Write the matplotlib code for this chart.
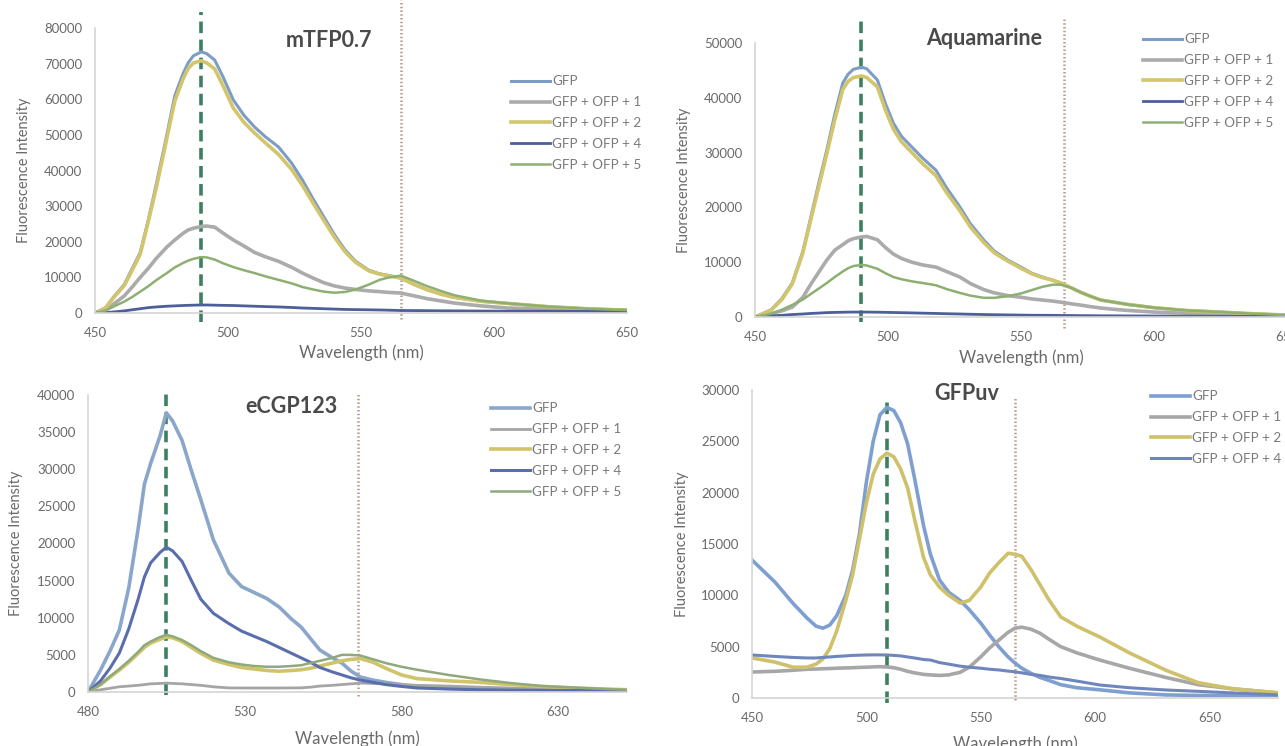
import matplotlib
matplotlib.use("Agg")
import matplotlib.pyplot as plt

plt.rcParams["font.family"] = ["Lato", "DejaVu Sans"]

labels5 = ["GFP", "GFP + OFP + 1", "GFP + OFP + 2", "GFP + OFP + 4", "GFP + OFP + 5"]
labels4 = ["GFP", "GFP + OFP + 1", "GFP + OFP + 2", "GFP + OFP + 4"]

# mTFP0.7 emission spectra
wl_mtfp = [450, 454, 457, 461, 464, 467, 470, 473, 477, 480, 483, 485, 487, 490, 492, 495, 498,
           502, 506, 510, 514, 519, 524, 528, 532, 536, 540, 544, 548, 553, 557, 560, 565, 570,
           575, 580, 585, 595, 605, 620, 635, 650]
mtfp_gfp = [0, 1500, 4500, 8000, 12500, 17000, 26000, 36000, 50000, 61000, 67000, 70200, 72200,
            73300, 72800, 71000, 66500, 59800, 55500, 52200, 49500, 46600, 42000, 37300, 32000,
            27000, 22000, 17700, 14500, 12000, 11000, 10600, 9800, 8000, 6500, 5300, 4400, 3300,
            2700, 1800, 1200, 800]
mtfp_ofp1 = [0, 900, 2500, 4800, 7300, 10000, 12500, 15300, 18500, 20500, 22300, 23300, 23800,
             24300, 24400, 24100, 22500, 20500, 18800, 17000, 15800, 14500, 12800, 11200, 9800,
             8500, 7600, 7000, 6600, 6200, 6000, 5800, 5600, 4800, 4000, 3400, 2800, 2000, 1400,
             1100, 900, 800]
mtfp_ofp2 = [0, 1400, 4300, 7700, 12000, 16500, 25500, 35000, 49000, 59500, 65500, 68600, 70200,
             70800, 70200, 68500, 64000, 57500, 53500, 50500, 47800, 44500, 40200, 35800, 30800,
             26000, 21300, 17200, 14200, 11800, 10900, 10500, 9800, 8000, 6500, 5300, 4400, 3300,
             2700, 1800, 1200, 800]
mtfp_ofp4 = [0, 100, 300, 600, 900, 1200, 1500, 1700, 1900, 2000, 2100, 2150, 2200, 2250, 2250,
             2200, 2150, 2100, 2000, 1900, 1800, 1700, 1550, 1400, 1300, 1200, 1100, 1000, 950,
             900, 850, 800, 700, 680, 650, 620, 600, 550, 500, 500, 450, 400]
mtfp_ofp5 = [0, 700, 1800, 3200, 4500, 6000, 7500, 9200, 11200, 12800, 14000, 14700, 15200,
             15700, 15600, 15000, 14000, 12900, 12000, 11200, 10300, 9300, 8300, 7300, 6600, 6000,
             5700, 5900, 6600, 8000, 9300, 9900, 10500, 9000, 7500, 6200, 5000, 3500, 2700, 1800,
             1200, 800]

# Aquamarine emission spectra
wl_aqua = [450, 456, 460, 464, 468, 471, 474, 477, 480, 483, 485, 487, 490, 492, 496, 499, 502,
           505, 509, 513, 518, 522, 527, 531, 536, 540, 545, 550, 554, 558, 562, 565, 569, 572,
           576, 580, 585, 590, 600, 612, 625, 637, 650]
aqua_gfp = [0, 1300, 3300, 6200, 12000, 18250, 24500, 30500, 37000, 42700, 44300, 45200, 45600,
            45300, 43250, 39000, 35400, 33000, 31000, 29000, 26800, 23600, 20100, 17000, 14050,
            12000, 10400, 9100, 8000, 7300, 6700, 6200, 5300, 4600, 3800, 3100, 2700, 2300, 1700,
            1200, 900, 600, 350]
aqua_ofp1 = [0, 600, 1100, 1800, 3600, 6000, 8200, 10400, 12200, 13200, 13900, 14300, 14600,
             14700, 14100, 12700, 11500, 10700, 10000, 9500, 9100, 8300, 7300, 6100, 5000, 4400,
             3900, 3600, 3300, 3100, 2900, 2700, 2400, 2200, 1900, 1640, 1400, 1200, 900, 700,
             500, 400, 300]
aqua_ofp2 = [0, 1200, 3100, 6000, 11700, 17800, 23800, 29800, 36000, 41500, 43000, 43700, 44000,
             43700, 42000, 37800, 34300, 32000, 30000, 28000, 25800, 22700, 19400, 16400, 13600,
             11700, 10200, 8900, 7900, 7200, 6700, 6200, 5300, 4600, 3800, 3100, 2700, 2300, 1700,
             1200, 900, 600, 350]
aqua_ofp4 = [0, 200, 300, 450, 550, 650, 720, 800, 840, 870, 890, 900, 900, 900, 880, 850, 820,
             790, 750, 700, 650, 600, 550, 500, 450, 420, 380, 350, 320, 310, 300, 280, 270, 250,
             240, 220, 210, 200, 180, 150, 130, 110, 100]
aqua_ofp5 = [0, 600, 1300, 2200, 3200, 4200, 5200, 6200, 7300, 8300, 8900, 9300, 9500, 9400,
             8800, 8000, 7300, 6900, 6500, 6200, 5800, 5100, 4400, 3900, 3500, 3500, 3800, 4300,
             4900, 5500, 5900, 5900, 5300, 4600, 3800, 3100, 2700, 2300, 1700, 1200, 900, 600, 350]

# eCGP123 emission spectra
wl_ecgp = [480, 484, 487, 490, 493, 496, 498, 500, 503, 505, 507, 510, 513, 516, 520, 525, 529,
           533, 537, 541, 545, 548, 551, 554, 558, 561, 564, 567, 571, 575, 580, 585, 595, 605,
           615, 625, 635, 645, 652]
ecgp_gfp = [0, 2960, 5500, 8350, 14000, 22000, 28000, 30800, 34500, 37600, 36500, 33900, 29800,
            25900, 20500, 16000, 14200, 13400, 12600, 11450, 9800, 8750, 7200, 5650, 4600, 3900,
            2800, 2000, 1600, 1300, 1000, 700, 500, 450, 400, 350, 300, 300, 300]
ecgp_ofp1 = [0, 300, 500, 700, 800, 900, 1000, 1100, 1150, 1200, 1150, 1100, 1000, 900, 700, 550,
             540, 540, 540, 540, 550, 560, 650, 800, 900, 1000, 1100, 1200, 1150, 1100, 1000,
             900, 800, 650, 540, 450, 400, 350, 300]
ecgp_ofp2 = [0, 1000, 2000, 2960, 4000, 5200, 6000, 6600, 7100, 7400, 7300, 6800, 6000, 5200,
             4300, 3700, 3300, 3100, 2900, 2800, 2900, 3000, 3200, 3500, 3900, 4200, 4400, 4500,
             4000, 3200, 2300, 1800, 1500, 1300, 1000, 750, 550, 400, 300]
ecgp_ofp4 = [0, 1500, 3200, 5250, 8500, 12500, 15500, 17400, 18800, 19500, 19000, 17600, 15000,
             12500, 10600, 9200, 8200, 7500, 6800, 6000, 5200, 4600, 4000, 3300, 2700, 2300, 1900,
             1600, 1300, 1000, 750, 540, 400, 300, 250, 220, 200, 200, 200]
ecgp_ofp5 = [0, 1000, 2100, 3100, 4200, 5400, 6300, 6800, 7400, 7700, 7500, 7000, 6300, 5500,
             4600, 4000, 3700, 3500, 3400, 3400, 3500, 3600, 3900, 4200, 4600, 5000, 5000, 4900,
             4400, 3900, 3400, 3000, 2300, 1700, 1200, 800, 600, 400, 300]

# GFPuv emission spectra
wl_uv = [450, 460, 468, 474, 478, 481, 484, 487, 491, 494, 497, 500, 503, 506, 509, 512, 515,
         518, 521, 525, 528, 532, 536, 541, 545, 550, 554, 558, 562, 565, 568, 572, 576, 580,
         585, 592, 602, 615, 631, 645, 660, 680]
uv_gfp = [13440, 11300, 9200, 7800, 7000, 6800, 7100, 8000, 10000, 12460, 16000, 21000, 25000,
          27600, 28300, 28000, 26800, 24800, 21500, 16800, 14000, 11500, 10300, 9500, 8600, 7300,
          6100, 4970, 4000, 3400, 2900, 2400, 2000, 1700, 1300, 1000, 800, 500, 300, 250, 250, 250]
uv_ofp1 = [2530, 2600, 2700, 2800, 2820, 2850, 2870, 2900, 2930, 2950, 2980, 3000, 3030, 3050,
           3020, 2950, 2800, 2600, 2450, 2300, 2250, 2200, 2250, 2500, 3000, 4000, 4900, 5650,
           6400, 6800, 6900, 6700, 6300, 5700, 5000, 4400, 3700, 2900, 2000, 1300, 900, 500]
uv_ofp2 = [3900, 3500, 3000, 3000, 3300, 3800, 4800, 6500, 9500, 12000, 15500, 19000, 21800,
           23300, 23850, 23500, 22300, 20500, 17500, 13700, 12000, 10800, 10000, 9250, 9500,
           10800, 12200, 13200, 14100, 14000, 13800, 12500, 11000, 9500, 7900, 7000, 5950, 4400,
           2700, 1500, 900, 500]
uv_ofp4 = [4190, 4050, 3950, 3900, 3900, 3950, 4000, 4050, 4100, 4150, 4170, 4190, 4200, 4200,
           4190, 4150, 4100, 4000, 3900, 3750, 3700, 3450, 3300, 3100, 3000, 2900, 2800, 2730,
           2620, 2550, 2450, 2300, 2200, 2040, 1900, 1650, 1270, 1000, 780, 650, 500, 300]

W, H = 1285, 746
fig = plt.figure(figsize=(W / 100, H / 100), dpi=100)


def px_axes(left, top, right, bottom):
    return fig.add_axes([left / W, 1 - bottom / H, (right - left) / W, (bottom - top) / H])


def style(ax, xlim, xticks, ylim, ystep, xlab_y):
    ax.set_xlim(*xlim)
    ax.set_ylim(*ylim)
    ax.set_xticks(xticks)
    ax.set_yticks(range(ylim[0], ylim[1] + 1, ystep))
    for s in ["top", "right"]:
        ax.spines[s].set_visible(False)
    for s in ["left", "bottom"]:
        ax.spines[s].set_color("#d4d4d4")
        ax.spines[s].set_linewidth(1.2)
    ax.tick_params(length=0, labelsize=9.5, labelcolor="#6a6a6a")
    ax.tick_params(axis="x", pad=10)
    ax.tick_params(axis="y", pad=9)
    ax.set_xlabel("Wavelength (nm)", fontsize=12, color="#6a6a6a")
    ax.set_ylabel("Fluorescence Intensity", fontsize=10.5, color="#6a6a6a")
    ax.xaxis.set_label_coords(0.5, xlab_y)
    ax.yaxis.set_label_coords(-0.12, 0.5)
    ax.patch.set_alpha(0)


def markers(ax, x_donor, x_acc, g0, g1, d0, d1):
    ax.axvline(x_donor, ymin=g0, ymax=g1, color="#3c8060", lw=2.6,
               ls=(0, (3.2, 1.8)), clip_on=False, zorder=1)
    ax.axvline(x_acc, ymin=d0, ymax=d1, color="#b89a8c", lw=1.8,
               ls=(0, (0.6, 0.9)), clip_on=False, zorder=1)


def legend(ax, x, y):
    ax.legend(loc="upper left", bbox_to_anchor=(x / W, 1 - y / H),
              bbox_transform=fig.transFigure, frameon=False, fontsize=9.7,
              handlelength=2.9, handletextpad=0.15, labelspacing=0.66,
              labelcolor="#7a7a7a", borderaxespad=0)


def title(ax, x, y, text):
    ax.text(x, y, text, fontsize=15.5, fontweight="bold", color="#4a4a4a",
            ha="center", va="center")


# mTFP0.7
ax1 = px_axes(95, 28, 627, 313)
ax1.plot(wl_mtfp, mtfp_gfp, color="#7d9cc6", lw=2.2, label=labels5[0])
ax1.plot(wl_mtfp, mtfp_ofp1, color="#ababab", lw=2.6, label=labels5[1])
ax1.plot(wl_mtfp, mtfp_ofp2, color="#d2c56c", lw=2.6, label=labels5[2])
ax1.plot(wl_mtfp, mtfp_ofp4, color="#4d5f9a", lw=2.0, label=labels5[3])
ax1.plot(wl_mtfp, mtfp_ofp5, color="#8db072", lw=1.8, label=labels5[4])
style(ax1, (450, 650), [450, 500, 550, 600, 650], (0, 80000), 10000, -0.112)
markers(ax1, 490, 565, -0.03, 1.056, -0.02, 1.1)
title(ax1, 538, 76600, "mTFP0.7")
legend(ax1, 506, 70)

# Aquamarine
ax2 = px_axes(755, 43, 1287, 317)
ax2.plot(wl_aqua, aqua_gfp, color="#7d9cc6", lw=2.2, label=labels5[0])
ax2.plot(wl_aqua, aqua_ofp1, color="#ababab", lw=2.6, label=labels5[1])
ax2.plot(wl_aqua, aqua_ofp2, color="#d2c56c", lw=2.6, label=labels5[2])
ax2.plot(wl_aqua, aqua_ofp4, color="#4d5f9a", lw=2.0, label=labels5[3])
ax2.plot(wl_aqua, aqua_ofp5, color="#8db072", lw=1.8, label=labels5[4])
style(ax2, (450, 650), [450, 500, 550, 600, 650], (0, 50000), 10000, -0.117)
markers(ax2, 490, 566, -0.02, 1.09, -0.04, 1.09)
title(ax2, 536, 50900, "Aquamarine")
legend(ax2, 1138, 28)

# eCGP123
ax3 = px_axes(88, 395, 627, 692)
ax3.plot(wl_ecgp, ecgp_gfp, color="#8aa6ca", lw=2.6, label=labels5[0])
ax3.plot(wl_ecgp, ecgp_ofp1, color="#a5a5a5", lw=2.0, label=labels5[1])
ax3.plot(wl_ecgp, ecgp_ofp2, color="#cfc46a", lw=2.6, label=labels5[2])
ax3.plot(wl_ecgp, ecgp_ofp4, color="#5a6eae", lw=2.2, label=labels5[3])
ax3.plot(wl_ecgp, ecgp_ofp5, color="#8fa87c", lw=1.8, label=labels5[4])
style(ax3, (480, 652), [480, 530, 580, 630], (0, 40000), 5000, -0.131)
markers(ax3, 505, 566, -0.01, 1.005, -0.015, 1.005)
title(ax3, 545, 38400, "eCGP123")
legend(ax3, 486, 397)

# GFPuv
ax4 = px_axes(752, 390, 1278, 698)
ax4.plot(wl_uv, uv_gfp, color="#7e9fd0", lw=2.6, label=labels4[0])
ax4.plot(wl_uv, uv_ofp1, color="#a7a7a7", lw=2.6, label=labels4[1])
ax4.plot(wl_uv, uv_ofp2, color="#cfc06c", lw=2.6, label=labels4[2])
ax4.plot(wl_uv, uv_ofp4, color="#6f86bc", lw=2.2, label=labels4[3])
style(ax4, (450, 680), [450, 500, 550, 600, 650], (0, 30000), 5000, -0.12)
markers(ax4, 509, 565, -0.015, 0.97, -0.008, 0.975)
title(ax4, 544, 29700, "GFPuv")
legend(ax4, 1146, 385)

fig.savefig("out.png", dpi=100)
